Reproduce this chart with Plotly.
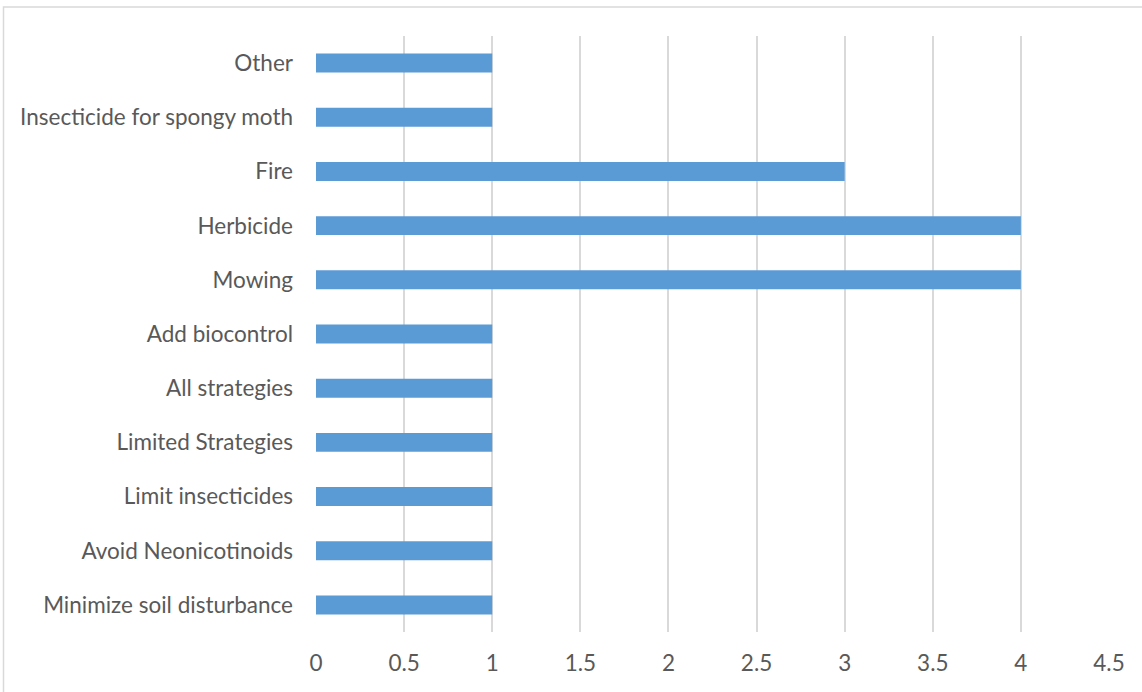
import plotly.graph_objects as go

# Management strategies and number of responses (bottom to top)
strategies = [
    "Minimize soil disturbance",
    "Avoid Neonicotinoids",
    "Limit insecticides",
    "Limited Strategies",
    "All strategies",
    "Add biocontrol",
    "Mowing",
    "Herbicide",
    "Fire",
    "Insecticide for spongy moth",
    "Other",
]
counts = [1, 1, 1, 1, 1, 1, 4, 4, 3, 1, 1]
x_ticks = [0, 0.5, 1, 1.5, 2, 2.5, 3, 3.5, 4, 4.5]

W, H = 1142, 692
L, R, T, B = 316, 33, 36, 60
pw, ph = W - L - R, H - T - B
FONT_SIZE = 22.5

fig = go.Figure(
    go.Bar(
        y=strategies,
        x=counts,
        orientation="h",
        marker=dict(color="#5B9BD5", line=dict(width=0)),
        hoverinfo="x+y",
    )
)

fig.update_layout(
    width=W,
    height=H,
    margin=dict(l=L, r=R, t=T, b=B, pad=0),
    paper_bgcolor="white",
    plot_bgcolor="white",
    bargap=0.65,
    showlegend=False,
    font=dict(family="Lato, Carlito, 'Open Sans', sans-serif", size=FONT_SIZE, color="#595959"),
)

fig.update_xaxes(
    range=[0, 4.5],
    tickvals=x_ticks,
    ticktext=[f"{v:g}" for v in x_ticks],
    showgrid=True,
    gridcolor="#D9D9D9",
    gridwidth=1.5,
    zeroline=False,
    showline=False,
    ticks="outside",
    ticklen=11,
    tickcolor="white",
    tickfont=dict(size=FONT_SIZE, color="#595959"),
)

fig.update_yaxes(
    categoryorder="array",
    categoryarray=strategies,
    showgrid=False,
    zeroline=False,
    showline=False,
    ticks="",
    ticklabelstandoff=22,
    tickfont=dict(size=FONT_SIZE, color="#595959"),
)

# Chart area border
fig.add_shape(
    type="rect",
    xref="paper",
    yref="paper",
    x0=(3.5 - L) / pw,
    x1=(W + 10 - L) / pw,
    y0=-(H + 10 - (T + ph)) / ph,
    y1=1 + (T - 7) / ph,
    line=dict(color="#D9D9D9", width=1.5),
    fillcolor="rgba(0,0,0,0)",
    layer="below",
)

fig.write_html("out.html")
